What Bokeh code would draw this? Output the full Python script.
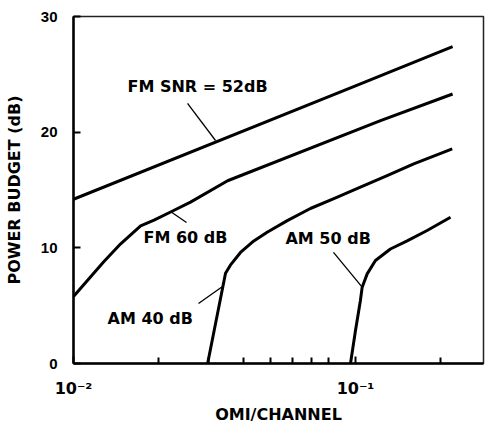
from bokeh.plotting import figure
from bokeh.models import Range1d, FixedTicker, Label, CustomJSTickFormatter
from bokeh.embed import file_html
from bokeh.resources import INLINE

# ---- data ----
fm52_x = [0.01, 0.1, 0.221]
fm52_y = [14.2, 24.0, 27.4]

fm60_x = [0.01, 0.0128, 0.0147, 0.0173, 0.0193, 0.0221, 0.0260, 0.0352, 0.1227, 0.221]
fm60_y = [5.8, 8.8, 10.35, 11.9, 12.4, 13.1, 13.95, 15.8, 21.0, 23.3]

am40_x = [0.0299, 0.0346, 0.0360, 0.0391, 0.0436, 0.0486, 0.0573, 0.0692, 0.0838, 0.1041, 0.1295, 0.1609, 0.2203]
am40_y = [0.0, 7.8, 8.5, 9.6, 10.6, 11.35, 12.35, 13.4, 14.25, 15.25, 16.25, 17.25, 18.55]

am50_x = [0.0960, 0.100, 0.1041, 0.1056, 0.1100, 0.1177, 0.1330, 0.1525, 0.1795, 0.2173]
am50_y = [0.0, 2.85, 5.45, 6.6, 7.75, 8.9, 9.9, 10.6, 11.5, 12.65]

y_ticks = [0, 10, 20, 30]
x_major = [0.01, 0.1]
x_minor = [0.02, 0.03, 0.04, 0.05, 0.06, 0.07, 0.08, 0.2]

curve_labels = ["FM SNR = 52dB", "FM 60 dB", "AM 40 dB", "AM 50 dB"]
label_x = [0.01554, 0.01771, 0.01320, 0.05646]
label_y = [23.95, 10.89, 3.89, 10.81]
# leader lines: (x0, y0) -> (x1, y1)
lead_x0 = [0.02537, 0.02208, 0.02775, 0.08356]
lead_y0 = [22.48, 13.14, 5.19, 9.60]
lead_x1 = [0.03189, 0.02516, 0.03377, 0.1056]
lead_y1 = [19.28, 12.19, 6.66, 6.6]

TXT = "DejaVu Sans"
NUM = "Liberation Sans"

p = figure(width=485, height=427, x_axis_type="log",
           x_range=Range1d(0.01, 0.2844), y_range=Range1d(0, 30),
           output_backend="svg", toolbar_location=None,
           min_border_left=73, min_border_right=2,
           min_border_top=16, min_border_bottom=64)
p.grid.visible = False
p.outline_line_color = "#222222"
p.outline_line_width = 1.5
p.background_fill_color = "white"
p.border_fill_color = "white"

# y axis
ya = p.yaxis[0]
ya.ticker = FixedTicker(ticks=y_ticks)
ya.axis_line_width = 2.5
ya.major_tick_in = 7
ya.major_tick_out = 0
ya.major_tick_line_width = 2
ya.minor_tick_line_color = None
ya.major_label_standoff = 16
ya.major_label_text_font = NUM
ya.major_label_text_font_style = "bold"
ya.major_label_text_font_size = "15px"
ya.major_label_text_color = "black"
ya.axis_label = "POWER BUDGET (dB)"
ya.axis_label_text_font = TXT
ya.axis_label_text_font_style = "bold"
ya.axis_label_text_font_size = "16px"
ya.axis_label_text_color = "black"
ya.axis_label_standoff = 14

# x axis
xa = p.xaxis[0]
xa.ticker = FixedTicker(ticks=x_major, minor_ticks=x_minor)
xa.formatter = CustomJSTickFormatter(code="return tick < 0.05 ? '10\u207b\u00b2' : '10\u207b\u00b9';")
xa.axis_line_width = 2.5
xa.major_tick_in = 7
xa.major_tick_out = 0
xa.minor_tick_in = 6
xa.minor_tick_out = 0
xa.major_tick_line_width = 2
xa.minor_tick_line_width = 2
xa.major_label_standoff = 15
xa.major_label_text_font = TXT
xa.major_label_text_font_style = "bold"
xa.major_label_text_font_size = "16px"
xa.major_label_text_color = "black"
xa.axis_label = "OMI/CHANNEL"
xa.axis_label_text_font = TXT
xa.axis_label_text_font_style = "bold"
xa.axis_label_text_font_size = "16px"
xa.axis_label_text_color = "black"
xa.axis_label_standoff = 4

# curves
for xs, ys in [(fm52_x, fm52_y), (fm60_x, fm60_y), (am40_x, am40_y), (am50_x, am50_y)]:
    p.line(xs, ys, line_width=3, line_color="black", line_join="round")

# leader lines
p.segment(x0=lead_x0, y0=lead_y0, x1=lead_x1, y1=lead_y1,
          line_color="black", line_width=1.3)

# curve labels
for t, lx, ly in zip(curve_labels, label_x, label_y):
    p.add_layout(Label(x=lx, y=ly, text=t, text_font=TXT, text_font_style="bold",
                       text_font_size="16px", text_align="left",
                       text_baseline="middle", text_color="black"))

open("out.html", "w").write(file_html(p, INLINE))
